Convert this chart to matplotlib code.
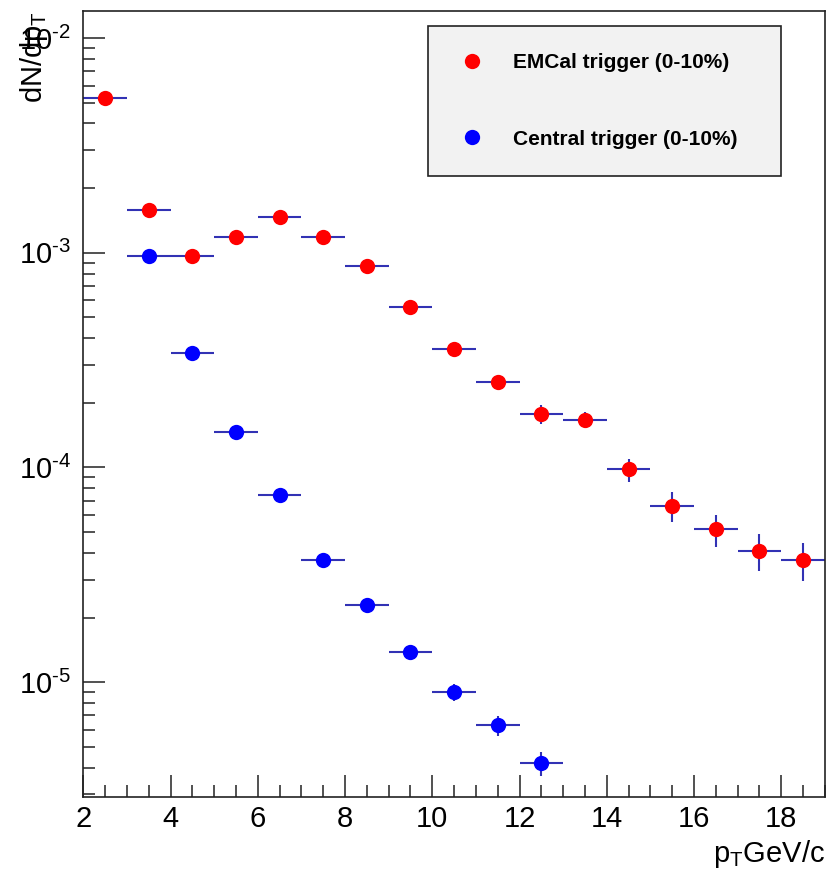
import numpy as np
import matplotlib
matplotlib.use('Agg')
import matplotlib.pyplot as plt
from matplotlib.ticker import LogLocator, MultipleLocator, FuncFormatter
from matplotlib.lines import Line2D

# pT bin centres and half widths (GeV/c)
pt_emcal = [2.5, 3.5, 4.5, 5.5, 6.5, 7.5, 8.5, 9.5, 10.5, 11.5, 12.5, 13.5, 14.5, 15.5, 16.5, 17.5, 18.5]
dn_emcal = [5.26e-3, 1.58e-3, 9.7e-4, 1.19e-3, 1.46e-3, 1.19e-3, 8.7e-4, 5.6e-4, 3.57e-4, 2.51e-4,
            1.78e-4, 1.67e-4, 9.8e-5, 6.6e-5, 5.15e-5, 4.1e-5, 3.7e-5]
err_emcal = [5e-5, 2.4e-5, 2e-5, 2.4e-5, 2.9e-5, 3e-5, 2.6e-5, 2e-5, 1.6e-5, 1.5e-5,
             1.8e-5, 1.5e-5, 1.2e-5, 1.05e-5, 8.8e-6, 8.2e-6, 7.4e-6]

pt_central = [3.5, 4.5, 5.5, 6.5, 7.5, 8.5, 9.5, 10.5, 11.5, 12.5]
dn_central = [9.7e-4, 3.43e-4, 1.46e-4, 7.48e-5, 3.69e-5, 2.28e-5, 1.38e-5, 9.0e-6, 6.3e-6, 4.2e-6]
err_central = [1e-5, 5.2e-6, 2.9e-6, 2.3e-6, 1.5e-6, 1.1e-6, 1.03e-6, 7.9e-7, 6.7e-7, 5.4e-7]

bin_half = 0.5
labels = ['EMCal trigger (0-10%)', 'Central trigger (0-10%)']

plt.rcParams['font.family'] = ['Liberation Sans', 'DejaVu Sans']
plt.rcParams['mathtext.fontset'] = 'custom'
plt.rcParams['mathtext.rm'] = 'Liberation Sans'
plt.rcParams['mathtext.it'] = 'Liberation Sans'
plt.rcParams['mathtext.default'] = 'regular'

fig = plt.figure(figsize=(8.26, 8.73), dpi=100)
ax = fig.add_axes([0.101, 0.0871, 0.8975, 0.9003])

bar_col = '#3232b4'
for x, y, e, c in [(pt_emcal, dn_emcal, err_emcal, '#ff0000'),
                   (pt_central, dn_central, err_central, '#0000ff')]:
    ax.errorbar(x, y, xerr=bin_half, yerr=e, fmt='none', ecolor=bar_col,
                elinewidth=1.5, capsize=0, zorder=2)
    ax.plot(x, y, 'o', color=c, markersize=11, markeredgewidth=0, zorder=3)

ax.set_xlim(2, 19)
ax.set_yscale('log')
ax.set_ylim(2.92e-6, 1.336e-2)

ax.xaxis.set_major_locator(MultipleLocator(2))
ax.xaxis.set_minor_locator(MultipleLocator(0.5))
ax.yaxis.set_major_locator(LogLocator(base=10))
ax.yaxis.set_minor_locator(LogLocator(base=10, subs=np.arange(2, 10)))
ax.yaxis.set_major_formatter(FuncFormatter(lambda v, p: '10$^{\u2010%d}$' % -round(np.log10(v))))
ax.yaxis.set_minor_formatter(FuncFormatter(lambda v, p: ''))

ax.tick_params(which='both', direction='in', top=False, right=False, width=1.1, color='#222222')
ax.tick_params(which='major', length=16, labelsize=21)
ax.tick_params(which='minor', length=8.5)
ax.tick_params(axis='x', which='major', pad=6)
ax.tick_params(axis='y', which='major', pad=9)
for s in ax.spines.values():
    s.set_linewidth(1.2)
    s.set_color('#222222')

ax.set_xlabel(r'$p_{T}$GeV/c', fontsize=21, loc='right')
ax.xaxis.set_label_coords(1.0, -0.052)
ax.set_ylabel(r'dN/d$p_{T}$', fontsize=21, loc='top')
ax.yaxis.set_label_coords(-0.045, 1.0)

handles = [Line2D([], [], marker='o', ls='none', color='#ff0000', markersize=11, markeredgewidth=0),
           Line2D([], [], marker='o', ls='none', color='#0000ff', markersize=11, markeredgewidth=0)]
leg = ax.legend(handles, labels, loc='upper left', bbox_to_anchor=(0.4646, 0.7926, 0.476, 0.188),
                mode='expand', borderaxespad=0, borderpad=1.3, labelspacing=2.75,
                handlelength=1.6, handletextpad=1.2, fancybox=False, framealpha=1,
                facecolor='#f2f2f2', edgecolor='#222222', prop={'weight': 'bold', 'size': 15})
leg.get_frame().set_linewidth(1.2)

fig.savefig('out.png', dpi=100)
